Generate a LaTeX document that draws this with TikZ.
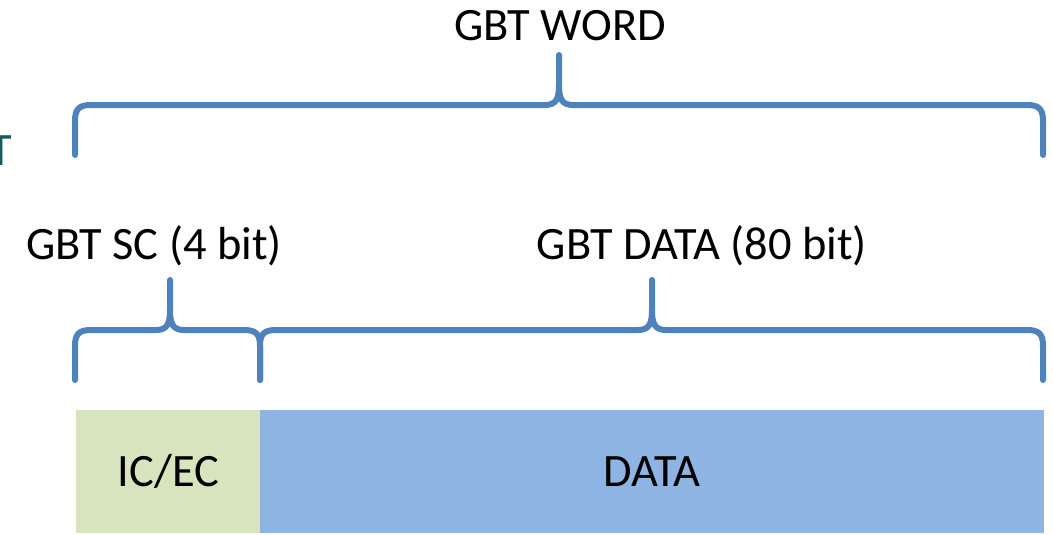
\documentclass[tikz,border=0pt]{standalone}
\usepackage{fontspec}
\setmainfont{Carlito}
\usetikzlibrary{positioning}

\definecolor{bracecol}{RGB}{79,129,189}
\definecolor{scgreen}{RGB}{215,228,189}
\definecolor{datablue}{RGB}{142,180,227}
\definecolor{titleteal}{RGB}{24,92,94}

% curly brace: left x, right x, tip x, bar y
\newcommand\gbtbrace[4]{%
  \draw[brace] (#1,#4+50) -- (#1,#4+16) .. controls (#1,#4+4) and (#1+4,#4) .. (#1+16,#4)
    -- (#3-14,#4) .. controls (#3-3,#4) and (#3,#4-6) .. (#3,#4-20) -- (#3,#4-50)
    -- (#3,#4-20) .. controls (#3,#4-6) and (#3+3,#4) .. (#3+14,#4)
    -- (#2-16,#4) .. controls (#2-4,#4) and (#2,#4+4) .. (#2,#4+16) -- (#2,#4+50);}

\begin{document}
\begin{tikzpicture}[
    x=0.025cm, y=-0.025cm,
    brace/.style={draw=bracecol, line width=0.15cm, line cap=round, line join=round},
    fieldname/.style={anchor=base, inner sep=0pt, font=\fontsize{33}{40}\selectfont},
    field/.style={rectangle, minimum height=3.075cm, inner sep=0pt, font=\fontsize{33}{40}\selectfont}
]
\useasboundingbox (0,0) rectangle (1053,534);

% leftover title letter at the edge
\node [fieldname, text=titleteal] (edge) at (1,165) {T};

% word fields (slight overlap so no seam shows)
\node [field, fill=scgreen, minimum width=4.6cm, anchor=north west] (icec) at (76,410) {IC/EC};
\node [field, fill=datablue, minimum width=19.6cm, right=-0.7pt of icec, yshift=0pt] (data) {DATA};

% names
\node [fieldname] (word) at (560,40) {GBT WORD};
\node [fieldname] (sc) at (154,259) {GBT SC (4 bit)};
\node [fieldname] (payload) at (702,259) {GBT DATA (80 bit)};

% braces
\gbtbrace{75}{1043}{559}{105}
\gbtbrace{75}{260}{170}{330}
\gbtbrace{260}{1043}{652}{330}

\end{tikzpicture}
\end{document}
